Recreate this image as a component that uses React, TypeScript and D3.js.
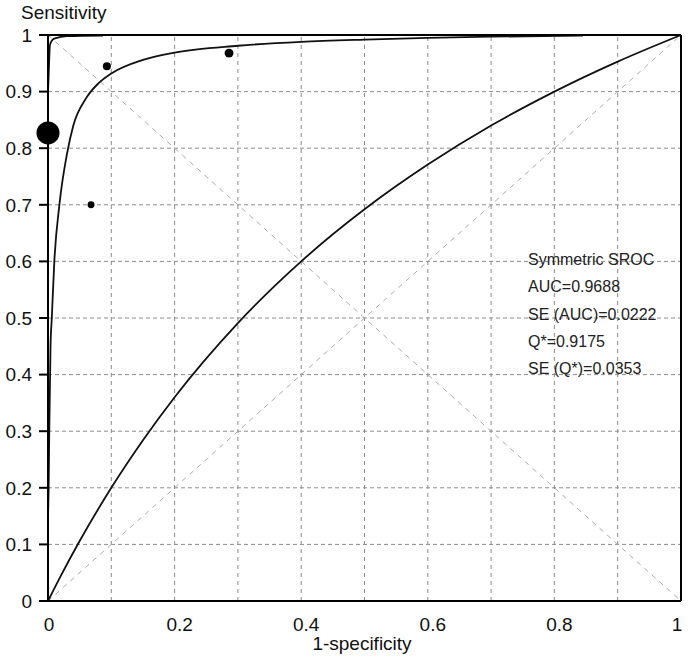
import React from "react";
import * as d3 from "d3";

// SROC curve
const srocFpr = [0, 0.001, 0.002, 0.004, 0.006, 0.01, 0.018, 0.03, 0.04, 0.06, 0.08, 0.1, 0.15, 0.2, 0.3, 0.4, 0.5, 0.6, 0.7, 0.845];
const srocTpr = [0.15, 0.2, 0.3, 0.45, 0.5, 0.6, 0.7, 0.79, 0.84, 0.888, 0.915, 0.932, 0.956, 0.969, 0.981, 0.988, 0.992, 0.995, 0.997, 0.999];

// small curve hugging the top-left corner
const upperFpr = [0, 0.002, 0.003, 0.006, 0.011, 0.03, 0.087];
const upperTpr = [0.9, 0.96, 0.982, 0.99, 0.994, 0.998, 0.999];

// lower concave curve from (0,0) to (1,1)
const lowerFpr = [0, 0.02, 0.05, 0.1, 0.15, 0.2, 0.3, 0.4, 0.5, 0.6, 0.7, 0.8, 0.9, 1];
const lowerTpr = [0, 0.044, 0.106, 0.2, 0.284, 0.36, 0.491, 0.6, 0.692, 0.771, 0.84, 0.9, 0.953, 1];

// studies
const studyFpr = [0, 0.093, 0.286, 0.068];
const studyTpr = [0.827, 0.945, 0.968, 0.7];
const studyWeight = [132, 16, 20, 12];

const gridTicks = [0.1, 0.2, 0.3, 0.4, 0.5, 0.6, 0.7, 0.8, 0.9];
const yTickLabels = [0, 0.1, 0.2, 0.3, 0.4, 0.5, 0.6, 0.7, 0.8, 0.9, 1];
const xTickLabels = [0, 0.2, 0.4, 0.6, 0.8, 1];

const legendLines = ["Symmetric SROC", "AUC=0.9688", "SE (AUC)=0.0222", "Q*=0.9175", "SE (Q*)=0.0353"];

const width = 688;
const height = 660;
const margin = { top: 35, right: 7, bottom: 59, left: 48 };

const App: React.FC = () => {
  const x = d3.scaleLinear().domain([0, 1]).range([margin.left, width - margin.right]);
  const y = d3.scaleLinear().domain([0, 1]).range([height - margin.bottom, margin.top]);
  const r = d3.scaleSqrt().domain([0, 132]).range([0, 11.5]);

  const line = d3
    .line<[number, number]>()
    .x((d) => x(d[0]))
    .y((d) => y(d[1]))
    .curve(d3.curveMonotoneX);

  const zip = (a: number[], b: number[]) => a.map((v, i) => [v, b[i]] as [number, number]);

  const font = "'Liberation Sans', Arial, sans-serif";

  return (
    <div style={{ position: "fixed", left: 0, top: 0 }}>
      <svg width={width} height={height} style={{ display: "block", background: "#fff" }}>
        {/* grid */}
        {gridTicks.map((t) => (
          <g key={"g" + t}>
            <line x1={x(t)} x2={x(t)} y1={y(0)} y2={y(1)} stroke="#8c8c8c" strokeWidth={1} strokeDasharray="4,4" />
            <line x1={x(0)} x2={x(1)} y1={y(t)} y2={y(t)} stroke="#8c8c8c" strokeWidth={1} strokeDasharray="4,3" />
          </g>
        ))}
        {/* diagonals */}
        <line x1={x(0)} y1={y(0)} x2={x(1)} y2={y(1)} stroke="#aaa" strokeWidth={1} strokeDasharray="5,5" />
        <line x1={x(0)} y1={y(1)} x2={x(1)} y2={y(0)} stroke="#aaa" strokeWidth={1} strokeDasharray="5,5" />

        {/* curves */}
        <path d={line(zip(lowerFpr, lowerTpr)) || ""} fill="none" stroke="#111" strokeWidth={1.8} />
        <path d={line(zip(srocFpr, srocTpr)) || ""} fill="none" stroke="#111" strokeWidth={1.8} />
        <path d={line(zip(upperFpr, upperTpr)) || ""} fill="none" stroke="#111" strokeWidth={1.8} />

        {/* frame & axes */}
        <line x1={x(0)} x2={x(0)} y1={y(0)} y2={y(1)} stroke="#000" strokeWidth={2} />
        <line x1={x(0) - 9} x2={x(1)} y1={y(0)} y2={y(0)} stroke="#000" strokeWidth={2} />
        <line x1={x(0) - 9} x2={x(1)} y1={y(1)} y2={y(1)} stroke="#000" strokeWidth={2} />
        <line x1={x(1)} x2={x(1)} y1={y(0)} y2={y(1)} stroke="#000" strokeWidth={2} />
        {yTickLabels.map((t) => (
          <g key={"y" + t}>
            <line x1={x(0) - 9} x2={x(0)} y1={y(t)} y2={y(t)} stroke="#000" strokeWidth={2} />
            <text x={32} y={y(t)} dy="0.36em" textAnchor="end" fontSize={19} fontFamily={font} fill="#111">
              {t}
            </text>
          </g>
        ))}
        {xTickLabels.map((t) => (
          <text
            key={"x" + t}
            x={x(t)}
            dx={t === 1 ? -4 : t === 0 ? 1 : 5}
            y={631}
            textAnchor="middle"
            fontSize={19}
            fontFamily={font}
            fill="#111"
          >
            {t}
          </text>
        ))}

        {/* studies */}
        {studyFpr.map((f, i) => (
          <circle key={"s" + i} cx={x(f)} cy={y(studyTpr[i])} r={r(studyWeight[i])} fill="#000" />
        ))}

        {/* titles */}
        <text x={21} y={19} fontSize={19} fontFamily={font} fill="#111">Sensitivity</text>
        <text x={362} y={650} textAnchor="middle" fontSize={19} fontFamily={font} fill="#111">1-specificity</text>

        {/* legend */}
        {legendLines.map((s, i) => (
          <text key={s} x={528} y={265 + i * 27.3} fontSize={16} fontFamily={font} fill="#222">
            {s}
          </text>
        ))}
      </svg>
    </div>
  );
};

export default App;
